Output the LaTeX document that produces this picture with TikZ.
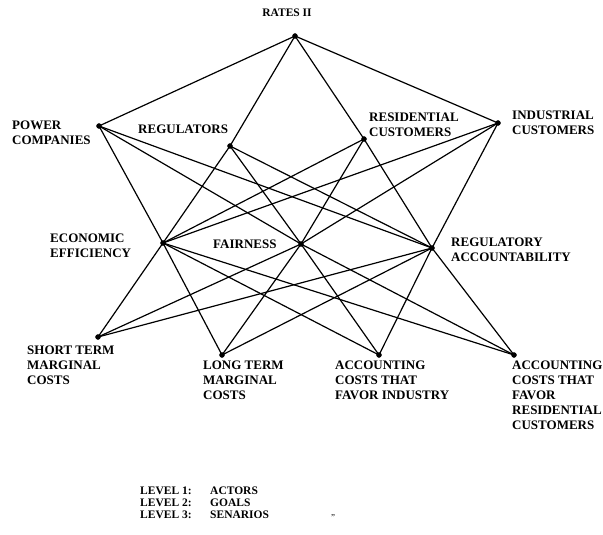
\documentclass[tikz,border=0pt]{standalone}
\usepackage{fontspec}
\setmainfont{Liberation Serif}
\usepackage{tkz-euclide}
\tikzset{
  lbl/.style={anchor=north west,inner sep=0pt,align=left,
    font=\bfseries\fontsize{13}{15}\selectfont},
  legend/.style={anchor=north west,inner sep=0pt,align=left,
    font=\bfseries\fontsize{11.5}{11.8}\selectfont},
  edge/.style={line width=1.2pt}
}

\begin{document}
\begin{tikzpicture}[x=1pt,y=-1pt]
                \useasboundingbox (0,0) rectangle (603,535);
                \tkzDefPoints{295/36/R,99/126/PC,230/146/RG,364/139/RC,498/123/IC}
                \tkzDefPoints{163/243/EE,301/244/FA,432/248/RA}
                \tkzDefPoints{98/337/ST,222/355/LT,379/355/AI,514/355/AR}
                \tkzDrawSegments[edge](R,PC R,RG R,RC R,IC)
                \tkzDrawSegments[edge](PC,EE PC,FA PC,RA RG,EE RG,FA RG,RA)
                \tkzDrawSegments[edge](RC,EE RC,FA RC,RA IC,EE IC,FA IC,RA)
                \tkzDrawSegments[edge](EE,ST EE,LT EE,AI EE,AR FA,ST FA,LT FA,AI FA,AR)
                \tkzDrawSegments[edge](RA,ST RA,LT RA,AI RA,AR)
                \tkzDrawPoints[size=5,fill=black](R,PC,RG,RC,IC,EE,FA,RA,ST,LT,AI,AR)
                \node[font=\bfseries\fontsize{11.5}{11.5}\selectfont,inner sep=0pt] (nR) at (287,13) {RATES II};
                \node[lbl] (nPC) at (12,121) {POWER\\COMPANIES};
                \node[lbl] (nRG) at (138,125) {REGULATORS};
                \node[lbl] (nRC) at (369,113) {RESIDENTIAL\\CUSTOMERS};
                \node[lbl] (nIC) at (512,111) {INDUSTRIAL\\CUSTOMERS};
                \node[lbl] (nEE) at (50,234) {ECONOMIC\\EFFICIENCY};
                \node[lbl] (nFA) at (213,240) {FAIRNESS};
                \node[lbl] (nRA) at (451,238) {REGULATORY\\ACCOUNTABILITY};
                \node[lbl] (nST) at (27,346) {SHORT TERM\\MARGINAL\\COSTS};
                \node[lbl] (nLT) at (203,361) {LONG TERM\\MARGINAL\\COSTS};
                \node[lbl] (nAI) at (335,361) {ACCOUNTING\\COSTS THAT\\FAVOR INDUSTRY};
                \node[lbl] (nAR) at (512,361) {ACCOUNTING\\COSTS THAT\\FAVOR\\RESIDENTIAL\\CUSTOMERS};
                \node[legend] (lvl) at (140,487) {LEVEL 1:\\LEVEL 2:\\LEVEL 3:};
                \node[legend] (kind) at (210,487) {ACTORS\\GOALS\\SENARIOS};
                \node[inner sep=0pt,font=\fontsize{9}{9}\selectfont] (spk) at (333,518) {\textquotedblright};
            \end{tikzpicture}
\end{document}
